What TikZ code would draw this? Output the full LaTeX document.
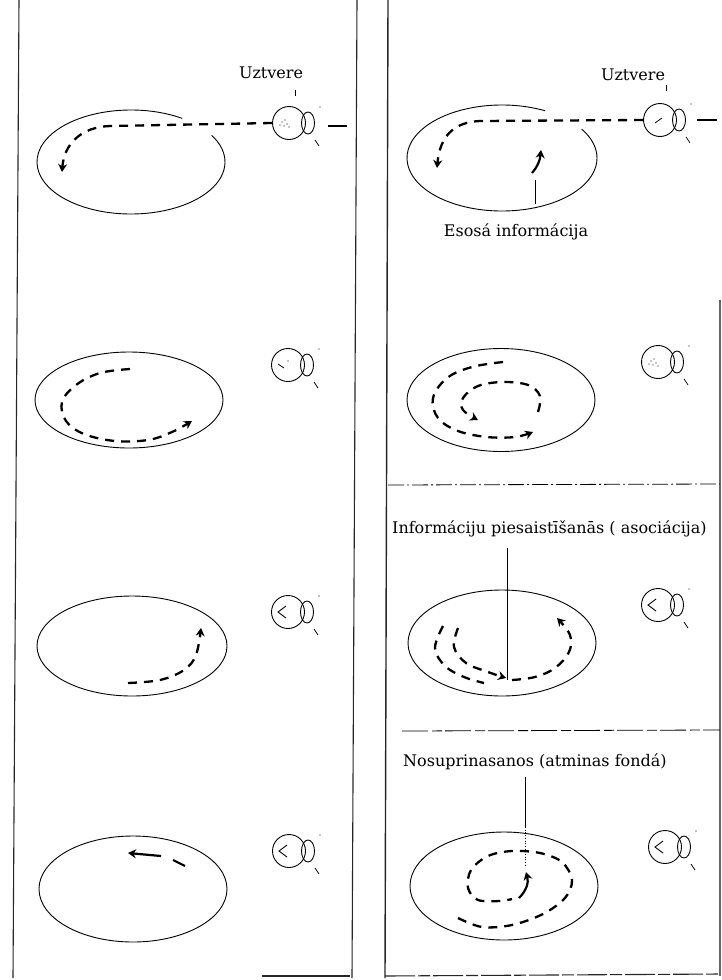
\documentclass[tikz,border=0pt]{standalone}
\usepackage{fontspec}
\setmainfont{DejaVu Serif}
\usetikzlibrary{arrows.meta,shapes.geometric}

\tikzset{
  rim/.style={line width=0.9pt},
  frame/.style={line width=1.1pt, black!85},
  flow/.style={line width=2.3pt, dash pattern=on 9pt off 7pt, line cap=butt},
  tip/.style={-{Stealth[length=8pt,width=9pt]}},
  solidtip/.style={line width=2.2pt, -{Stealth[length=8pt,width=9pt]}},
  eyeball/.style={circle, draw, line width=0.9pt, minimum size=33pt, inner sep=0pt},
  lens/.style={ellipse, draw, line width=0.9pt, minimum width=13pt, minimum height=22pt, inner sep=0pt},
  lbl/.style={inner sep=0pt, font=\fontsize{16}{18}\selectfont},
  pointer/.style={line width=0.7pt},
}

% eye: ball, lens and the two little ticks
\newcommand\drawEye[2]{%
  \node[eyeball] (#1) at #2 {};
  \node[lens] (#1l) at ([xshift=19pt]#1.center) {};
  \draw[line width=0.7pt] ([xshift=26pt,yshift=-17pt]#1.center) -- ([xshift=30pt,yshift=-23pt]#1.center);
  \fill ([xshift=31pt,yshift=16pt]#1.center) circle (0.7pt);
}
\newcommand\eyeAngle[1]{%
  \draw[line width=0.9pt] ([xshift=-2pt,yshift=6pt]#1.center) -- ([xshift=-10pt]#1.center) -- ([xshift=-2pt,yshift=-6pt]#1.center);
}
\newcommand\eyeDots[1]{%
  \foreach \dx/\dy in {-7/1,-4/3,-2/-1,-5/-3,0/-4,-9/-2}
    \fill ([xshift=\dx pt,yshift=\dy pt]#1.center) circle (0.55pt);
}

\begin{document}
\begin{tikzpicture}[x=1pt,y=-1pt]
\useasboundingbox (0,0) rectangle (722,980);

% ---------- panel frames ----------
\draw[frame] (19,0) -- (13,978);
\draw[frame] (357,0) -- (352,978);
\draw[frame] (262,976) -- (350,976);
\draw[frame, line width=1.4pt] (388,0) -- (385,978);
\draw[frame, dash pattern=on 30pt off 3pt on 12pt off 3pt] (385,976) -- (720,974);
\draw[frame, black!60] (720,300) -- (720,976);

% separators in the right panel
\draw[line width=0.8pt, dash pattern=on 16pt off 3pt on 2pt off 3pt] (388,485) -- (720,484);
\draw[line width=0.8pt, dash pattern=on 26pt off 4pt on 10pt off 3pt] (402,731) -- (720,730);

% ================= left panel =================
% row 1
\coordinate (L1) at (131,162);
\draw[rim] (L1) ++(-57:94 and 52) arc[start angle=-57, end angle=-391, x radius=94, y radius=52];
\drawEye{eL1}{(289,123)}
\eyeDots{eL1}
\draw[line width=0.7pt] ([xshift=6pt,yshift=33pt]eL1.center) -- ([xshift=6pt,yshift=27pt]eL1.center);
\node[lbl] (uL) at (271,73) {Uztvere};
\coordinate (cL1) at (110,126);
\draw[flow, tip] (eL1.west) -- (cL1) .. controls (80,127) and (64,145) .. (62,172);
\draw[line width=2.4pt] (328,126) coordinate (oL1) -- (347,126);

% row 2
\node[ellipse, draw, rim, minimum width=188pt, minimum height=96pt] (L2) at (129,400) {};
\drawEye{eL2}{(288,365)}
\draw[line width=0.8pt] ([xshift=-10pt,yshift=1pt]eL2.center) -- ([xshift=-4pt,yshift=-3pt]eL2.center);
\fill ([xshift=0pt,yshift=4pt]eL2.center) circle (0.6pt);
\draw[flow, tip] plot[smooth, tension=0.6] coordinates {(130,369) (100,373) (76,385) (62,402) (66,421) (84,434) (115,441) (148,440) (172,432) (192,421)};

% row 3
\node[ellipse, draw, rim, minimum width=190pt, minimum height=100pt] (L3) at (132,646) {};
\drawEye{eL3}{(288,612)}
\eyeAngle{eL3}
\draw[flow, tip] plot[smooth, tension=0.6] coordinates {(128,683) (160,680) (184,670) (196,655) (201,628)};

% row 4
\node[ellipse, draw, rim, minimum width=188pt, minimum height=106pt] (L4) at (133,889) {};
\drawEye{eL4}{(289,851)}
\eyeAngle{eL4}
\draw[line width=2.2pt] (185,866) -- (173,860);
\draw[solidtip] (161,856) -- (128,853);

% ================= right panel =================
% row 1
\coordinate (R1) at (502,158);
\draw[rim] (R1) ++(-63:95 and 53) arc[start angle=-63, end angle=-393, x radius=95, y radius=53];
\drawEye{eR1}{(660,120)}
\draw[line width=0.8pt] ([xshift=-5pt,yshift=-3pt]eR1.center) -- ([xshift=2pt,yshift=2pt]eR1.center);
\draw[line width=0.7pt] ([xshift=6pt,yshift=35pt]eR1.center) -- ([xshift=6pt,yshift=29pt]eR1.center);
\node[lbl] (uR) at (633,75) {Uztvere};
\coordinate (cR1) at (480,121);
\draw[flow, tip] (eR1.west) -- (cR1) .. controls (455,122) and (440,135) .. (437,168);
\draw[line width=2.4pt] (697,120) -- (717,120);
\draw[solidtip] (532,173) .. controls (538,166) and (540,160) .. (541,150);
\node[lbl] (esosa) at (516,232) {Esosá informácija};
\coordinate (pR1) at (535,180);
\draw[pointer] (535,204) -- (pR1);

% row 2
\node[ellipse, draw, rim, minimum width=188pt, minimum height=103pt] (R2) at (501,400) {};
\drawEye{eR2}{(658,362)}
\eyeDots{eR2}
\draw[flow, tip] plot[smooth, tension=0.6] coordinates {(503,362) (472,367) (447,378) (433,398) (438,418) (458,431) (487,437) (515,437) (533,432)};
\draw[flow, tip] plot[smooth, tension=0.6] coordinates {(538,412) (540,396) (528,385) (503,382) (478,386) (463,398) (463,410) (478,420)};

% row 3
\node[lbl, anchor=base west] (assoc) at (392,533) {Informáciju piesaistīšanās ( asociácija)};
\node[ellipse, draw, rim, minimum width=188pt, minimum height=106pt] (R3) at (502,643) {};
\coordinate (pR3) at (507,680);
\draw[pointer] (507,548) -- (pR3);
\drawEye{eR3}{(658,605)}
\eyeAngle{eR3}
\draw[flow] plot[smooth, tension=0.6] coordinates {(443,626) (435,648) (445,666) (464,677) (484,683)};
\draw[flow, tip] plot[smooth, tension=0.6] coordinates {(458,628) (454,647) (466,663) (488,672) (506,678)};
\draw[flow, tip] plot[smooth, tension=0.6] coordinates {(512,680) (535,677) (555,668) (569,652) (570,635) (557,618)};

% row 4
\node[lbl, anchor=base west] (fonds) at (403,766) {Nosuprinasanos (atminas fondá)};
\node[ellipse, draw, rim, minimum width=188pt, minimum height=108pt] (R4) at (504,886) {};
\coordinate (pR4) at (525,827);
\draw[pointer] (525,777) -- (pR4);
\draw[pointer, dotted] (pR4) -- (525,866);
\drawEye{eR4}{(665,847)}
\eyeAngle{eR4}
\draw[flow] plot[smooth, tension=0.55] coordinates {(458,918) (482,927) (512,925) (543,914) (565,898) (572,880) (562,862) (540,853) (512,851) (488,856) (471,870) (468,888) (478,900) (500,901) (512,899)};
\draw[solidtip] (519,898) .. controls (526,891) and (529,883) .. (526,872);

\end{tikzpicture}
\end{document}
